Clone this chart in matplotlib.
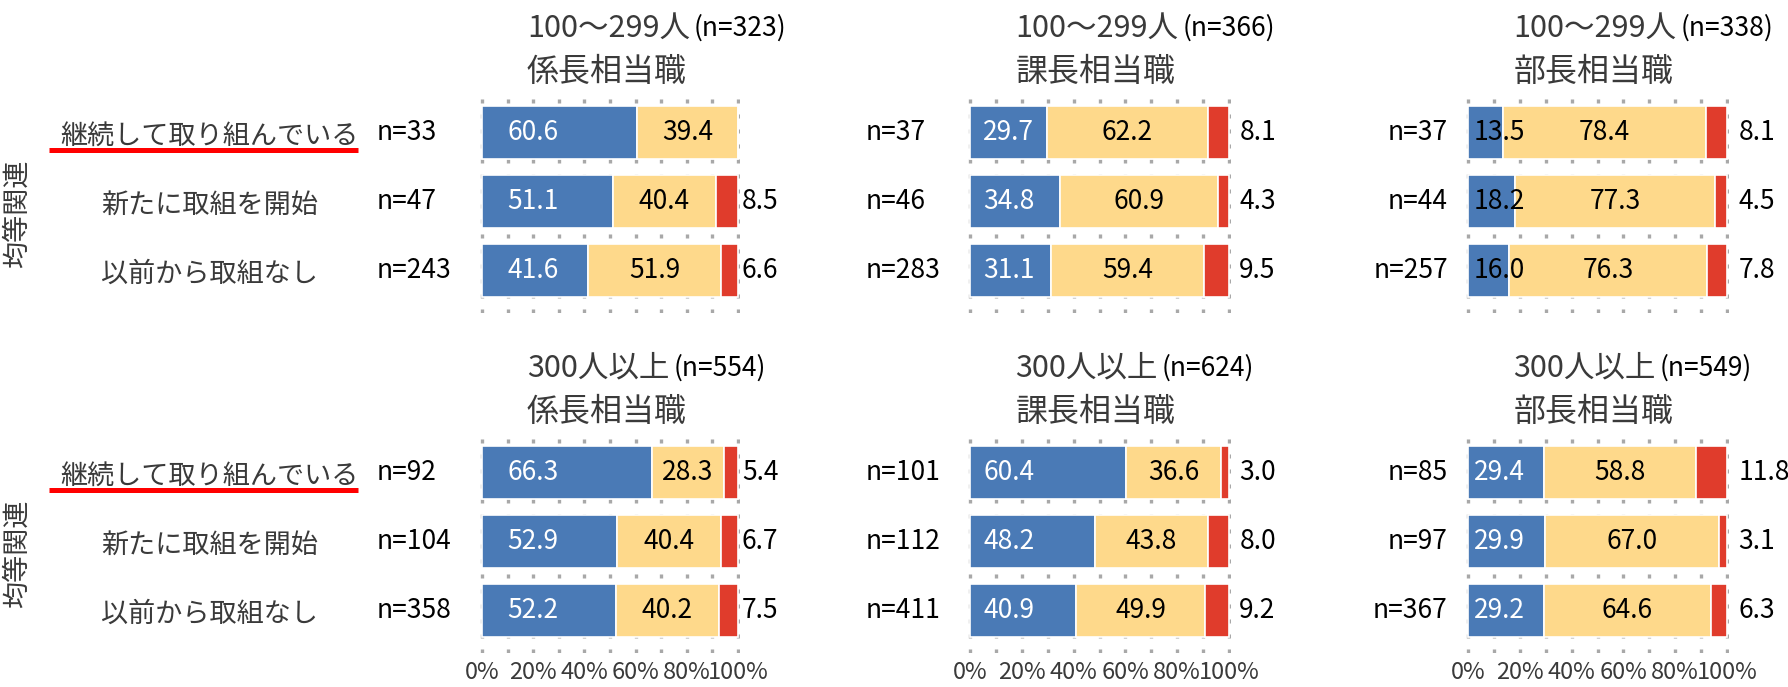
import matplotlib
matplotlib.use("Agg")
import matplotlib.pyplot as plt
from matplotlib.transforms import blended_transform_factory

plt.rcParams["font.family"] = ["Noto Sans CJK JP", "DejaVu Sans"]
plt.rcParams["lines.scale_dashes"] = False

# --- data ---
row_labels = ["継続して取り組んでいる", "新たに取組を開始", "以前から取組なし"]
side_label = "均等関連"
size_groups = ["100～299人", "300人以上"]
posts = ["係長相当職", "課長相当職", "部長相当職"]
group_n = [[323, 366, 338],
           [554, 624, 549]]
row_n = [[[33, 47, 243], [37, 46, 283], [37, 44, 257]],
         [[92, 104, 358], [101, 112, 411], [85, 97, 367]]]
seg1 = [[[60.6, 51.1, 41.6], [29.7, 34.8, 31.1], [13.5, 18.2, 16.0]],
        [[66.3, 52.9, 52.2], [60.4, 48.2, 40.9], [29.4, 29.9, 29.2]]]
seg2 = [[[39.4, 40.4, 51.9], [62.2, 60.9, 59.4], [78.4, 77.3, 76.3]],
        [[28.3, 40.4, 40.2], [36.6, 43.8, 49.9], [58.8, 67.0, 64.6]]]
seg3 = [[[0.0, 8.5, 6.6], [8.1, 4.3, 9.5], [8.1, 4.5, 7.8]],
        [[5.4, 6.7, 7.5], [3.0, 8.0, 9.2], [11.8, 3.1, 6.3]]]
pct_ticks = [0, 20, 40, 60, 80, 100]

# --- style ---
BLUE, YELLOW, RED = "#4a7ab6", "#fed98b", "#e03c2c"
GRID = "#a8a8a8"
DARK = "#3a3a3a"
W, H = 1788, 687
col_left = [482, 970, 1468]     # pixel x of the 0% line
col_width = [256, 259, 259]     # pixel width of 0..100%
row_top = [97, 437]             # pixel y of each panel row
panel_h = 216
pad = 0.7                       # extra x room so edge gridlines aren't clipped
seg1_x = [20, 15, 12]           # where the first value label sits
seg3_x = [101.5, 104, 104.5]
n_pos = [(-0.40, "left"), (-0.39, "left"), (-0.07, "right")]
seg1_txt = [["white", "white", "black"], ["white", "white", "white"]]

fig = plt.figure(figsize=(W / 100, H / 100), dpi=100)
fig.patch.set_facecolor("white")

for r in range(2):
    for c in range(3):
        w = col_width[c] * (100 + 2 * pad) / 100
        x0 = col_left[c] - col_width[c] * pad / 100
        ax = fig.add_axes([x0 / W, 1 - (row_top[r] + panel_h) / H, w / W, panel_h / H])
        ys = range(3)
        a, b, d = seg1[r][c], seg2[r][c], seg3[r][c]
        ab = [p + q for p, q in zip(a, b)]
        kw = dict(height=0.77, edgecolor="white", linewidth=1.2, zorder=3)
        ax.barh(ys, a, color=BLUE, **kw)
        ax.barh(ys, b, left=a, color=YELLOW, **kw)
        ax.barh(ys, d, left=ab, color=RED, **kw)

        ax.set_xlim(-pad, 100 + pad)
        ax.set_ylim(2.616, -0.514)
        ax.set_xticks(pct_ticks)
        ax.set_xticks(range(0, 101, 10), minor=True)
        ax.grid(axis="x", which="both", color=GRID, linewidth=2.4,
                linestyle=(0, (2.9, 7.9)), zorder=0)
        ax.set_axisbelow(True)
        for s in ax.spines.values():
            s.set_visible(False)
        ax.set_yticks([])
        ax.tick_params(axis="x", which="both", length=0, pad=6,
                       labelsize=17, labelcolor=DARK)
        if r == 1:
            ax.set_xticklabels([f"{t}%" for t in pct_ticks])
        else:
            ax.set_xticklabels([])

        # segment values
        for i in ys:
            ax.text(seg1_x[c], i, f"{a[i]:.1f}", ha="center", va="center",
                    fontsize=19, color=seg1_txt[r][c], zorder=5)
            ax.text(a[i] + b[i] / 2, i, f"{b[i]:.1f}", ha="center", va="center",
                    fontsize=19, color="black", zorder=5)
            if d[i] > 0:
                ax.text(seg3_x[c], i, f"{d[i]:.1f}", ha="left", va="center",
                        fontsize=19, color="black", clip_on=False)

        # row sample sizes
        bt = blended_transform_factory(ax.transAxes, ax.transData)
        nx, nha = n_pos[c]
        for i in ys:
            ax.text(nx, i, f"n={row_n[r][c][i]}", transform=bt, ha=nha,
                    va="center", fontsize=19, color="black")

        # panel headings
        t = ax.text(0.18, 1 + 69 / panel_h, size_groups[r], transform=ax.transAxes,
                    ha="left", va="center", fontsize=22, color=DARK)
        ax.annotate(f"(n={group_n[r][c]})", xy=(1, 0.5), xycoords=t,
                    xytext=(3, 0), textcoords="offset points",
                    ha="left", va="center", fontsize=19, color="black")
        ax.text(0.18, 1 + 25 / panel_h, posts[c], transform=ax.transAxes,
                ha="left", va="center", fontsize=23, color=DARK)

        if c == 0:
            for i in ys:
                ax.text(-1.043, i + 0.06, row_labels[i], transform=bt, ha="center",
                        va="center", fontsize=19.5, color=DARK)
            ax.plot([-1.66, -0.47], [0.25, 0.25], transform=bt, color="#ff0000",
                    linewidth=3.6, solid_capstyle="butt", clip_on=False)
            ax.text(-1.785, 1.18, side_label, transform=bt, rotation=90,
                    ha="center", va="center", fontsize=19.5, color=DARK)

fig.savefig("out.png", dpi=100, facecolor="white")
